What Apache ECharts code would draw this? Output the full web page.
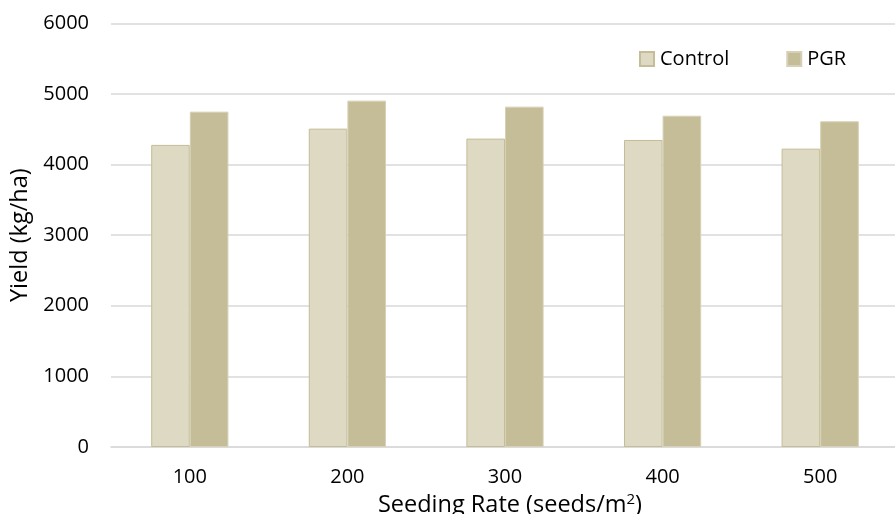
<!DOCTYPE html>
<html><head><meta charset="utf-8">
<script src="https://cdn.jsdelivr.net/npm/echarts@6/dist/echarts.min.js"></script>
<style>html,body{margin:0;padding:0;background:#fff}#c{width:895px;height:514px}</style>
</head><body><div id="c"></div>
<script>
var categories = ['100', '200', '300', '400', '500'];
var controlValues = [4278, 4508, 4367, 4348, 4225];
var pgrValues = [4749, 4905, 4820, 4691, 4612];
var yTicks = {min: 0, max: 6000, interval: 1000};

var chart = echarts.init(document.getElementById('c'));
var font = 'Open Sans';
chart.setOption({
  animation: false,
  textStyle: {fontFamily: font},
  grid: {left: 111, top: 23.3, width: 788, bottom: 67, containLabel: false, outerBoundsMode: 'none'},
  legend: {
    data: ['Control', 'PGR'],
    top: 44, left: 634,
    itemWidth: 14, itemHeight: 14, itemGap: 57,
    icon: 'rect',
    textStyle: {fontSize: 20, color: '#000', fontFamily: font, padding: [0, 0, 0, 1]}
  },
  xAxis: {
    type: 'category', data: categories,
    name: 'Seeding Rate (seeds/m{sup|2})', nameLocation: 'middle', nameGap: 44,
    nameTextStyle: {fontSize: 23.5, color: '#000', fontFamily: font, padding: [0, 0, 0, 10],
      rich: {sup: {fontSize: 15, verticalAlign: 'top', padding: [0,0,12,0], color:'#000', fontFamily: font}}},
    axisLine: {show: true, lineStyle: {color: '#d9d9d9', width: 1.5}},
    axisTick: {show: false},
    axisLabel: {fontSize: 20, color: '#000', margin: 20}
  },
  yAxis: {
    type: 'value', min: yTicks.min, max: yTicks.max, interval: yTicks.interval,
    name: 'Yield (kg/ha)', nameLocation: 'middle', nameGap: 78, nameRotate: 90,
    nameTextStyle: {fontSize: 23.5, color: '#000', fontFamily: font},
    axisLabel: {fontSize: 20, color: '#000', margin: 22, formatter: function (v) { return String(v); }},
    splitLine: {lineStyle: {color: '#d9d9d9', width: 1.5}},
    axisLine: {show: false}, axisTick: {show: false}
  },
  series: [
    {name: 'Control', type: 'bar', data: controlValues, barGap: '0%', barCategoryGap: '51%',
     itemStyle: {color: '#DDD9C3', borderColor: '#C4BD97', borderWidth: 1}},
    {name: 'PGR', type: 'bar', data: pgrValues,
     itemStyle: {color: '#C4BD97', borderColor: '#D6D1B6', borderWidth: 1}}
  ]
});
</script></body></html>
